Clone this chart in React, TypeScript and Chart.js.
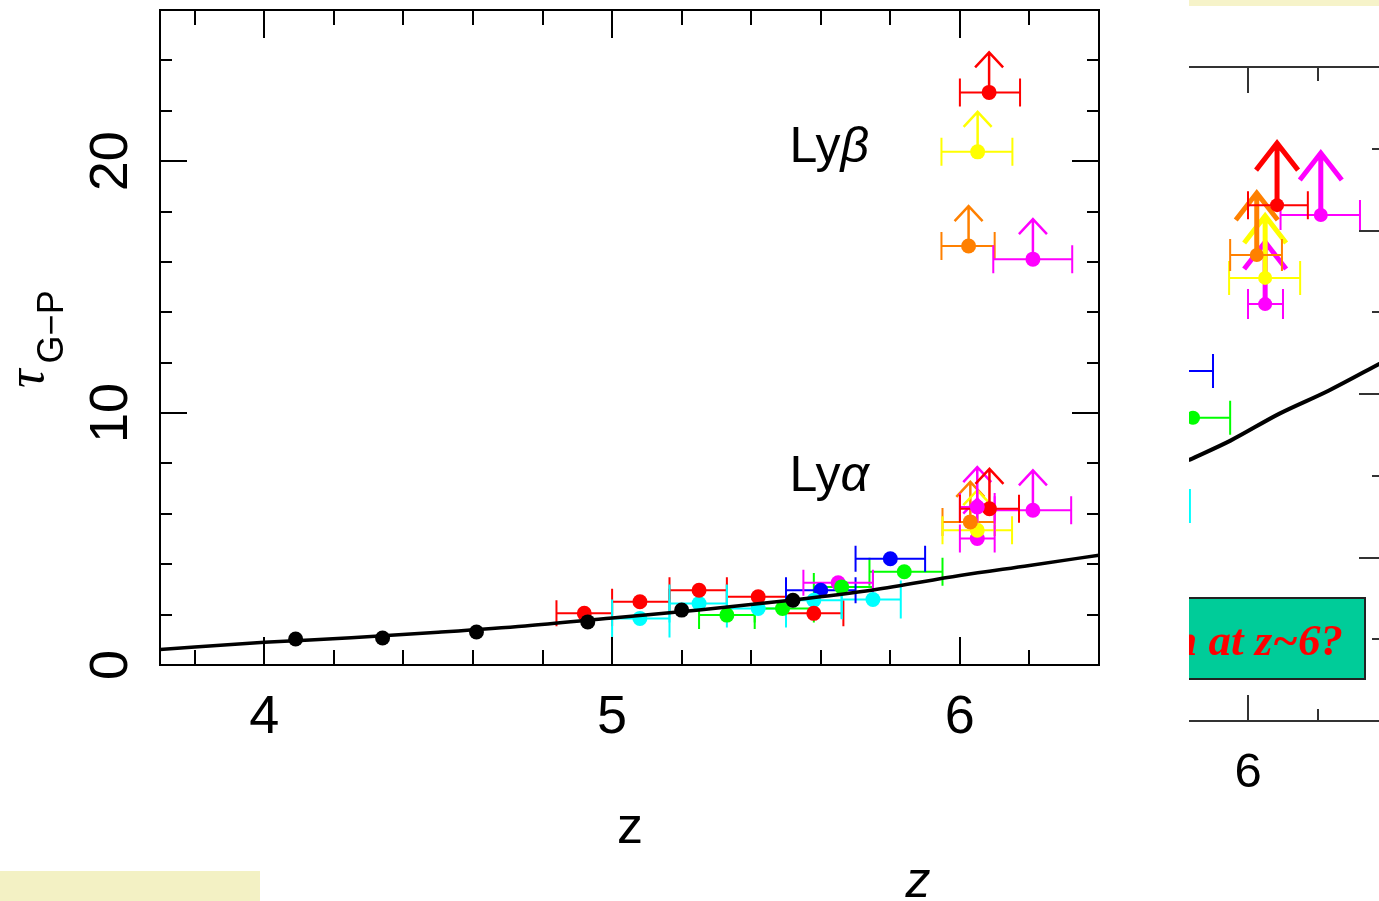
import React, { useEffect, useRef } from "react";
import { Chart, registerables } from "chart.js";
Chart.register(...registerables);

// ---------- Main panel (tau_GP vs z) ----------
const xTickLabels = [4, 5, 6];
const yTickLabels = [0, 10, 20];

// model curve
const curveZ = [3.7, 4.0, 4.25, 4.5, 4.75, 5.0, 5.25, 5.5, 5.75, 6.0, 6.2, 6.4];
const curveTau = [0.62, 0.9, 1.08, 1.3, 1.55, 1.87, 2.18, 2.55, 2.98, 3.55, 3.95, 4.36];

// black points (no error bars)
const blackZ = [4.09, 4.34, 4.61, 4.93, 5.2, 5.52];
const blackTau = [1.03, 1.07, 1.31, 1.71, 2.18, 2.57];

// Ly-alpha measurements with z-bin error bars
const redZ = [4.92, 5.08, 5.25, 5.42, 5.58];
const redTau = [2.05, 2.51, 2.97, 2.71, 2.05];
const redLo = [4.84, 5.0, 5.165, 5.33, 5.5];
const redHi = [5.0, 5.165, 5.33, 5.5, 5.665];

const cyanZ = [5.08, 5.25, 5.42, 5.58, 5.75];
const cyanTau = [1.85, 2.44, 2.24, 2.57, 2.6];
const cyanLo = [5.0, 5.165, 5.33, 5.5, 5.66];
const cyanHi = [5.165, 5.33, 5.5, 5.66, 5.83];

const greenZ = [5.33, 5.49, 5.66, 5.84];
const greenTau = [1.98, 2.24, 3.1, 3.7];
const greenLo = [5.25, 5.41, 5.58, 5.74];
const greenHi = [5.41, 5.58, 5.75, 5.95];

const blueZ = [5.6, 5.8];
const blueTau = [2.97, 4.22];
const blueLo = [5.5, 5.7];
const blueHi = [5.7, 5.9];

const magentaZ = [5.65];
const magentaTau = [3.26];
const magentaLo = [5.55];
const magentaHi = [5.75];

// lower limits (Ly-alpha near 6, Ly-beta above)
const orangeLimZ = [6.03, 6.025];
const orangeLimTau = [5.68, 16.63];
const orangeLimLo = [5.95, 5.947];
const orangeLimHi = [6.1, 6.1];

const yellowLimZ = [6.05, 6.051];
const yellowLimTau = [5.35, 20.37];
const yellowLimLo = [5.95, 5.947];
const yellowLimHi = [6.15, 6.151];

const magentaLimZ = [6.05, 6.05, 6.21, 6.21];
const magentaLimTau = [5.02, 6.27, 6.14, 16.11];
const magentaLimLo = [6.0, 6.0, 6.1, 6.096];
const magentaLimHi = [6.1, 6.1, 6.32, 6.323];

const redLimZ = [6.085, 6.084];
const redLimTau = [6.2, 22.73];
const redLimLo = [6.0, 6.0];
const redLimHi = [6.17, 6.173];

// ---------- Side panel (partly visible, zoomed copy) ----------
const sideTickLabels = [6];
const sideCurveZ = [5.83, 5.95, 6.09, 6.23, 6.38];
const sideCurveTau = [3.19, 3.43, 3.76, 4.04, 4.38];

const sideRedZ = [6.083];
const sideRedTau = [6.31];
const sideRedLo = [6.0];
const sideRedHi = [6.171];

const sideMagentaZ = [6.208, 6.049];
const sideMagentaTau = [6.19, 5.1];
const sideMagentaLo = [6.093, 6.0];
const sideMagentaHi = [6.32, 6.1];

const sideOrangeZ = [6.025];
const sideOrangeTau = [5.7];
const sideOrangeLo = [5.949];
const sideOrangeHi = [6.097];

const sideYellowZ = [6.049];
const sideYellowTau = [5.42];
const sideYellowLo = [5.946];
const sideYellowHi = [6.149];

const sideGreenZ = [5.843];
const sideGreenTau = [3.71];
const sideGreenLo = [5.74];
const sideGreenHi = [5.949];

const sideBlueZ = [5.8];
const sideBlueTau = [4.28];
const sideBlueLo = [5.7];
const sideBlueHi = [5.9];

const sideCyanZ = [5.746];
const sideCyanTau = [2.63];
const sideCyanLo = [5.66];
const sideCyanHi = [5.834];

const RED = "#ff0000";
const CYAN = "#00ffff";
const GREEN = "#00ff00";
const BLUE = "#0000ff";
const MAGENTA = "#ff00ff";
const ORANGE = "#ff8000";
const YELLOW = "#ffff00";

const SANS = '"Liberation Sans", Arial, sans-serif';
const SERIF = '"Liberation Serif", "Times New Roman", serif';

type Grp = { z: number[]; t: number[]; lo: number[]; hi: number[]; color: string; limit: boolean; cap: number };

const mainGroups: Grp[] = [
  { z: redZ, t: redTau, lo: redLo, hi: redHi, color: RED, limit: false, cap: 13 },
  { z: cyanZ, t: cyanTau, lo: cyanLo, hi: cyanHi, color: CYAN, limit: false, cap: 19 },
  { z: greenZ, t: greenTau, lo: greenLo, hi: greenHi, color: GREEN, limit: false, cap: 14 },
  { z: blueZ, t: blueTau, lo: blueLo, hi: blueHi, color: BLUE, limit: false, cap: 13 },
  { z: magentaZ, t: magentaTau, lo: magentaLo, hi: magentaHi, color: MAGENTA, limit: false, cap: 13 },
  { z: orangeLimZ, t: orangeLimTau, lo: orangeLimLo, hi: orangeLimHi, color: ORANGE, limit: true, cap: 14 },
  { z: yellowLimZ, t: yellowLimTau, lo: yellowLimLo, hi: yellowLimHi, color: YELLOW, limit: true, cap: 14 },
  { z: magentaLimZ, t: magentaLimTau, lo: magentaLimLo, hi: magentaLimHi, color: MAGENTA, limit: true, cap: 14 },
  { z: redLimZ, t: redLimTau, lo: redLimLo, hi: redLimHi, color: RED, limit: true, cap: 14 },
];

const sideGroups: Grp[] = [
  { z: sideCyanZ, t: sideCyanTau, lo: sideCyanLo, hi: sideCyanHi, color: CYAN, limit: false, cap: 17 },
  { z: sideGreenZ, t: sideGreenTau, lo: sideGreenLo, hi: sideGreenHi, color: GREEN, limit: false, cap: 17 },
  { z: sideBlueZ, t: sideBlueTau, lo: sideBlueLo, hi: sideBlueHi, color: BLUE, limit: false, cap: 17 },
  { z: sideMagentaZ, t: sideMagentaTau, lo: sideMagentaLo, hi: sideMagentaHi, color: MAGENTA, limit: true, cap: 15 },
  { z: sideYellowZ, t: sideYellowTau, lo: sideYellowLo, hi: sideYellowHi, color: YELLOW, limit: true, cap: 17 },
  { z: sideOrangeZ, t: sideOrangeTau, lo: sideOrangeLo, hi: sideOrangeHi, color: ORANGE, limit: true, cap: 16 },
  { z: sideRedZ, t: sideRedTau, lo: sideRedLo, hi: sideRedHi, color: RED, limit: true, cap: 14 },
];

function drawGroups(chart: any, groups: Grp[], arrowLen: number, wingW: number, wingH: number, arrowLw: number) {
  const { ctx, chartArea: a } = chart;
  const x = chart.scales.x;
  const y = chart.scales.y;
  ctx.save();
  ctx.beginPath();
  ctx.rect(a.left, a.top, a.right - a.left, a.bottom - a.top);
  ctx.clip();
  ctx.lineCap = "butt";
  for (const g of groups) {
    ctx.strokeStyle = g.color;
    for (let i = 0; i < g.z.length; i++) {
      const px = x.getPixelForValue(g.z[i]);
      const py = y.getPixelForValue(g.t[i]);
      const x0 = x.getPixelForValue(g.lo[i]);
      const x1 = x.getPixelForValue(g.hi[i]);
      ctx.lineWidth = 2;
      ctx.beginPath();
      ctx.moveTo(x0, py);
      ctx.lineTo(x1, py);
      ctx.moveTo(x0, py - g.cap);
      ctx.lineTo(x0, py + g.cap);
      ctx.moveTo(x1, py - g.cap);
      ctx.lineTo(x1, py + g.cap);
      ctx.stroke();
      if (g.limit) {
        const tip = py - arrowLen;
        ctx.lineWidth = arrowLw;
        ctx.beginPath();
        ctx.moveTo(px, py);
        ctx.lineTo(px, tip);
        ctx.moveTo(px - wingW, tip + wingH);
        ctx.lineTo(px, tip);
        ctx.lineTo(px + wingW, tip + wingH);
        ctx.stroke();
      }
    }
  }
  ctx.restore();
}

const mainPlugin = {
  id: "mainDeco",
  beforeDatasetsDraw(chart: any) {
    drawGroups(chart, mainGroups, 40, 14, 15, 2.5);
  },
  afterDraw(chart: any) {
    const { ctx, chartArea: a } = chart;
    const x = chart.scales.x;
    const y = chart.scales.y;
    ctx.save();
    ctx.strokeStyle = "#000";
    ctx.lineWidth = 2;
    ctx.strokeRect(a.left, a.top, a.right - a.left, a.bottom - a.top);
    ctx.beginPath();
    for (let i = 19; i <= 31; i++) {
      const v = i / 5;
      const px = Math.round(x.getPixelForValue(v));
      const len = i % 5 === 0 ? 28 : 15;
      ctx.moveTo(px, a.bottom);
      ctx.lineTo(px, a.bottom - len);
      ctx.moveTo(px, a.top);
      ctx.lineTo(px, a.top + len);
    }
    for (let v = 2; v <= 24; v += 2) {
      const py = Math.round(y.getPixelForValue(v));
      const len = v % 10 === 0 ? 27 : 12;
      ctx.moveTo(a.left, py);
      ctx.lineTo(a.left + len, py);
      ctx.moveTo(a.right, py);
      ctx.lineTo(a.right - len, py);
    }
    ctx.stroke();

    ctx.fillStyle = "#000";
    ctx.font = `54px ${SANS}`;
    ctx.textAlign = "center";
    ctx.textBaseline = "alphabetic";
    for (const v of xTickLabels) ctx.fillText(String(v), x.getPixelForValue(v), 733);
    for (const v of yTickLabels) {
      ctx.save();
      ctx.translate(127, y.getPixelForValue(v));
      ctx.rotate(-Math.PI / 2);
      ctx.fillText(String(v), 0, 0);
      ctx.restore();
    }
    // x title
    ctx.font = `52px ${SANS}`;
    ctx.fillText("z", 630, 843);
    // y title: tau_{G-P}
    ctx.save();
    ctx.translate(43, 388);
    ctx.rotate(-Math.PI / 2);
    ctx.textAlign = "left";
    ctx.font = `italic 52px ${SERIF}`;
    ctx.fillText("τ", 0, 0);
    const tw = ctx.measureText("τ").width;
    ctx.font = `36px ${SANS}`;
    ctx.fillText("G−P", tw + 6, 20);
    ctx.restore();

    // line labels
    ctx.textAlign = "left";
    const drawLy = (greek: string, px: number, base: number) => {
      ctx.font = `50px ${SANS}`;
      ctx.fillText("Ly", px, base);
      const w = ctx.measureText("Ly").width;
      ctx.font = `italic 50px ${SANS}`;
      ctx.fillText(greek, px + w, base);
    };
    drawLy("β", x.getPixelForValue(5.51), 162);
    drawLy("α", x.getPixelForValue(5.51), 491);

    // decorations from the slide
    ctx.fillStyle = "#f3f1c4";
    ctx.fillRect(0, 871, 260, 30);
    ctx.fillStyle = "#000";
    ctx.textAlign = "center";
    ctx.font = `italic 50px ${SANS}`;
    ctx.fillText("z", 918, 897);
    ctx.restore();
  },
};

const sidePlugin = {
  id: "sideDeco",
  beforeDatasetsDraw(chart: any) {
    drawGroups(chart, sideGroups, 62, 21, 27, 5);
  },
  afterDraw(chart: any) {
    const { ctx, chartArea: a } = chart;
    const x = chart.scales.x;
    const y = chart.scales.y;
    ctx.save();
    ctx.beginPath();
    ctx.rect(a.left, 0, 400, 901);
    ctx.clip();
    ctx.strokeStyle = "#333";
    ctx.lineWidth = 2;
    ctx.beginPath();
    ctx.moveTo(a.left, a.top);
    ctx.lineTo(a.right, a.top);
    ctx.moveTo(a.left, a.bottom);
    ctx.lineTo(a.right, a.bottom);
    for (let i = 29; i <= 32; i++) {
      const px = Math.round(x.getPixelForValue(i / 5));
      const major = i % 5 === 0;
      ctx.moveTo(px, a.bottom);
      ctx.lineTo(px, a.bottom - (major ? 26 : 12));
      ctx.moveTo(px, a.top);
      ctx.lineTo(px, a.top + (major ? 26 : 14));
    }
    for (let v = 1; v <= 7; v++) {
      const py = Math.round(y.getPixelForValue(v));
      const len = v % 2 === 0 ? 23 : 10;
      ctx.moveTo(a.right, py);
      ctx.lineTo(a.right - len, py);
    }
    ctx.stroke();

    ctx.fillStyle = "#000";
    ctx.font = `49px ${SANS}`;
    ctx.textAlign = "center";
    for (const v of sideTickLabels) ctx.fillText(String(v), x.getPixelForValue(v), 787);

    // green callout box
    ctx.fillStyle = "#00cc99";
    ctx.fillRect(1100, 598, 265, 81);
    ctx.strokeStyle = "#222";
    ctx.lineWidth = 2;
    ctx.strokeRect(1100, 598, 265, 81);
    ctx.fillStyle = "#ff0000";
    ctx.textAlign = "right";
    ctx.font = `italic bold 45px ${SERIF}`;
    ctx.fillText("n at z~6?", 1343, 655);

    // yellow strip at top
    ctx.fillStyle = "#f6f3c9";
    ctx.fillRect(a.left, 0, 300, 6);
    ctx.restore();
  },
};

function pts(zs: number[], ts: number[]) {
  return zs.map((z, i) => ({ x: z, y: ts[i] }));
}

function scatterSet(zs: number[], ts: number[], color: string, r: number) {
  return {
    type: "scatter" as const,
    data: pts(zs, ts),
    pointRadius: r,
    pointBackgroundColor: color,
    pointBorderWidth: 0,
    pointBorderColor: color,
    showLine: false,
    order: 2,
  };
}

export default function App() {
  const mainRef = useRef<HTMLCanvasElement>(null);
  const sideRef = useRef<HTMLCanvasElement>(null);

  useEffect(() => {
    const main = new Chart(mainRef.current as HTMLCanvasElement, {
      type: "scatter",
      data: {
        datasets: [
          {
            type: "line",
            data: pts(curveZ, curveTau),
            borderColor: "#000",
            borderWidth: 3.5,
            pointRadius: 0,
            cubicInterpolationMode: "monotone",
            order: 0,
          } as any,
          scatterSet(blackZ, blackTau, "#000", 7.5),
          scatterSet(redZ, redTau, RED, 7.5),
          scatterSet(cyanZ, cyanTau, CYAN, 7.5),
          scatterSet(greenZ, greenTau, GREEN, 7.5),
          scatterSet(blueZ, blueTau, BLUE, 7.5),
          scatterSet(magentaZ, magentaTau, MAGENTA, 7.5),
          scatterSet(orangeLimZ, orangeLimTau, ORANGE, 7.5),
          scatterSet(yellowLimZ, yellowLimTau, YELLOW, 7.5),
          scatterSet(magentaLimZ, magentaLimTau, MAGENTA, 7.5),
          scatterSet(redLimZ, redLimTau, RED, 7.5),
        ],
      },
      options: {
        responsive: false,
        animation: false,
        events: [],
        layout: { padding: { left: 160, right: 280, top: 10, bottom: 236 } },
        plugins: { legend: { display: false }, tooltip: { enabled: false } },
        scales: {
          x: { type: "linear", min: 3.7, max: 6.4, display: false },
          y: { type: "linear", min: 0, max: 26, display: false },
        },
      },
      plugins: [mainPlugin],
    });

    const side = new Chart(sideRef.current as HTMLCanvasElement, {
      type: "scatter",
      data: {
        datasets: [
          {
            type: "line",
            data: pts(sideCurveZ, sideCurveTau),
            borderColor: "#000",
            borderWidth: 4,
            pointRadius: 0,
            cubicInterpolationMode: "monotone",
            order: 0,
          } as any,
          scatterSet(sideCyanZ, sideCyanTau, CYAN, 7),
          scatterSet(sideGreenZ, sideGreenTau, GREEN, 7),
          scatterSet(sideBlueZ, sideBlueTau, BLUE, 7),
          scatterSet(sideMagentaZ, sideMagentaTau, MAGENTA, 7),
          scatterSet(sideYellowZ, sideYellowTau, YELLOW, 7),
          scatterSet(sideOrangeZ, sideOrangeTau, ORANGE, 7),
          scatterSet(sideRedZ, sideRedTau, RED, 7),
        ],
      },
      options: {
        responsive: false,
        animation: false,
        events: [],
        layout: { padding: { left: 1189, right: 18, top: 67, bottom: 180 } },
        plugins: { legend: { display: false }, tooltip: { enabled: false } },
        scales: {
          x: { type: "linear", min: 5.8314, max: 6.3829, display: false },
          y: { type: "linear", min: 0, max: 8, display: false },
        },
      },
      plugins: [sidePlugin],
    });

    return () => {
      main.destroy();
      side.destroy();
    };
  }, []);

  return (
    <div
      style={{
        position: "fixed",
        left: 0,
        top: 0,
        width: 1379,
        height: 901,
        overflow: "hidden",
        background: "#ffffff",
      }}
    >
      <canvas ref={mainRef} width={1379} height={901} style={{ position: "absolute", left: 0, top: 0 }} />
      <canvas ref={sideRef} width={1400} height={901} style={{ position: "absolute", left: 0, top: 0 }} />
    </div>
  );
}
